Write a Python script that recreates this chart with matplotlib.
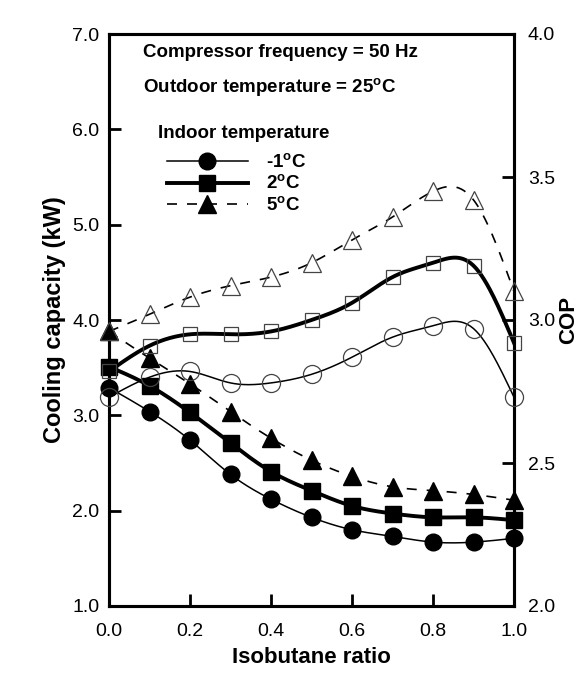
import numpy as np
import matplotlib
matplotlib.use("Agg")
import matplotlib.pyplot as plt
from matplotlib.lines import Line2D

plt.rcParams['font.family'] = ['Liberation Sans', 'DejaVu Sans']
plt.rcParams['mathtext.fontset'] = 'custom'
plt.rcParams['mathtext.rm'] = 'Liberation Sans'
plt.rcParams['mathtext.bf'] = 'Liberation Sans:bold'

# ---------------- data ----------------
ratio = [0.0, 0.1, 0.2, 0.3, 0.4, 0.5, 0.6, 0.7, 0.8, 0.9, 1.0]

cap_m1 = [3.29, 3.04, 2.74, 2.38, 2.12, 1.93, 1.80, 1.73, 1.67, 1.67, 1.71]
cap_2 = [3.51, 3.31, 3.03, 2.71, 2.41, 2.21, 2.05, 1.97, 1.93, 1.93, 1.90]
cap_5 = [3.88, 3.60, 3.33, 3.04, 2.76, 2.53, 2.36, 2.25, 2.21, 2.17, 2.11]

cop_m1 = [2.73, 2.80, 2.82, 2.78, 2.78, 2.81, 2.87, 2.94, 2.98, 2.97, 2.73]
cop_2 = [2.82, 2.91, 2.95, 2.95, 2.96, 3.00, 3.06, 3.15, 3.20, 3.19, 2.92]
cop_5 = [2.96, 3.02, 3.08, 3.12, 3.15, 3.20, 3.28, 3.36, 3.45, 3.42, 3.10]

labels = ["-1$^\\mathbf{o}$C", "2$^\\mathbf{o}$C", "5$^\\mathbf{o}$C"]
xticks = [0.0, 0.2, 0.4, 0.6, 0.8, 1.0]
cap_ticks = [1.0, 2.0, 3.0, 4.0, 5.0, 6.0, 7.0]
cop_ticks = [2.0, 2.5, 3.0, 3.5, 4.0]


def spline(x, y, n=300):
    x = np.asarray(x, float)
    y = np.asarray(y, float)
    m = len(x)
    h = np.diff(x)
    A = np.zeros((m, m))
    b = np.zeros(m)
    A[0, 0] = 1
    A[-1, -1] = 1
    for i in range(1, m - 1):
        A[i, i - 1] = h[i - 1]
        A[i, i] = 2 * (h[i - 1] + h[i])
        A[i, i + 1] = h[i]
        b[i] = 3 * ((y[i + 1] - y[i]) / h[i] - (y[i] - y[i - 1]) / h[i - 1])
    c = np.linalg.solve(A, b)
    xs = np.linspace(x[0], x[-1], n)
    idx = np.clip(np.searchsorted(x, xs) - 1, 0, m - 2)
    dx = xs - x[idx]
    bc = (y[1:] - y[:-1]) / h - h * (2 * c[:-1] + c[1:]) / 3
    d = (c[1:] - c[:-1]) / (3 * h)
    ys = y[idx] + bc[idx] * dx + c[idx] * dx ** 2 + d[idx] * dx ** 3
    return xs, ys


fig = plt.figure(figsize=(5.81, 6.79), dpi=100)
ax = fig.add_axes([109 / 581, 1 - 606 / 679, 405 / 581, 572 / 679])
ax2 = ax.twinx()

styles = [
    dict(ls='-', lw=1.1),
    dict(ls='-', lw=2.8),
    dict(ls=(0, (6, 6)), lw=1.2),
]
markers = [('o', 12), ('s', 11), ('^', 13)]
open_markers = [('o', 13), ('s', 10.5), ('^', 13)]

caps = [cap_m1, cap_2, cap_5]
cops = [cop_m1, cop_2, cop_5]

for cap, st, (mk, ms) in zip(caps, styles, markers):
    xs, ys = spline(ratio, cap)
    ax.plot(xs, ys, color='black', **st, zorder=3)
    ax.plot(ratio, cap, ls='none', marker=mk, ms=ms, color='black',
            zorder=4, clip_on=False)

for cop, st, (mk, ms) in zip(cops, styles, open_markers):
    xs, ys = spline(ratio, cop)
    ax2.plot(xs, ys, color='black', **st, zorder=3)
    ax2.plot(ratio, cop, ls='none', marker=mk, ms=ms, mfc='none',
             mec='#444444', mew=0.9, zorder=4, clip_on=False)

ax.set_xlim(0, 1.0)
ax.set_ylim(1.0, 7.0)
ax2.set_ylim(2.0, 4.0)
ax.set_xticks(xticks)
ax.set_xticklabels([f"{v:.1f}" for v in xticks])
ax.set_yticks(cap_ticks)
ax.set_yticklabels([f"{v:.1f}" for v in cap_ticks])
ax2.set_yticks(cop_ticks)
ax2.set_yticklabels([f"{v:.1f}" for v in cop_ticks])

for a in (ax, ax2):
    for s in a.spines.values():
        s.set_linewidth(2.2)
ax.tick_params(axis='x', direction='in', length=8.5, width=2, labelsize=14, pad=12)
ax.tick_params(axis='y', direction='in', length=8.5, width=2, labelsize=14, pad=7,
               right=False)
ax2.tick_params(axis='y', direction='in', length=8.5, width=2, labelsize=14, pad=10)

ax.set_xlabel("Isobutane ratio", fontsize=16, fontweight='bold', labelpad=5)
ax.set_ylabel("Cooling capacity (kW)", fontsize=17, fontweight='bold', labelpad=4)
ax2.set_ylabel("COP", fontsize=16, fontweight='bold', labelpad=2)

ax.text(0.084, 0.960, "Compressor frequency = 50 Hz", transform=ax.transAxes,
        fontsize=13.5, fontweight='bold', va='baseline', ha='left')
ax.text(0.084, 0.897, "Outdoor temperature = 25$^\\mathbf{o}$C", transform=ax.transAxes,
        fontsize=13.5, fontweight='bold', va='baseline', ha='left')
ax.text(0.121, 0.818, "Indoor temperature", transform=ax.transAxes,
        fontsize=13.5, fontweight='bold', va='baseline', ha='left')

handles = [Line2D([], [], color='black', marker=mk, ms=ms, **st)
           for st, (mk, ms) in zip(styles, markers)]
leg = ax.legend(handles, labels, loc='upper left', bbox_to_anchor=(0.143, 0.792),
                frameon=False, borderpad=0, borderaxespad=0, handlelength=4.3,
                handletextpad=1.0, labelspacing=0.15,
                prop=dict(weight='bold', size=13.5))
leg.set_zorder(10)

fig.savefig("out.png", dpi=100)
